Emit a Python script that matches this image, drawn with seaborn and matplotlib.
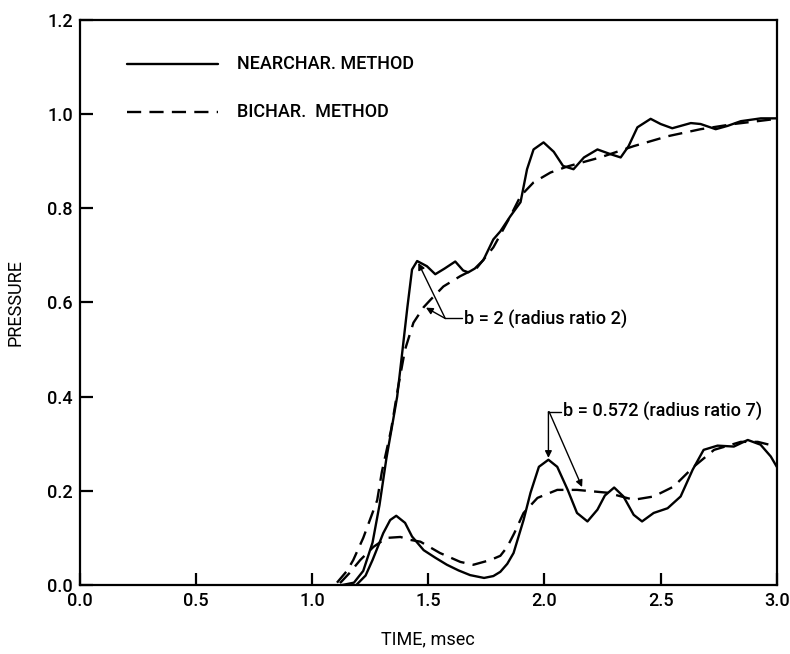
import matplotlib
matplotlib.use("Agg")
import matplotlib.pyplot as plt
import seaborn as sns
import pandas as pd

# ---- data ----
near_b2_t = [1.13, 1.18, 1.22, 1.26, 1.29, 1.32, 1.345, 1.366, 1.386, 1.41, 1.43, 1.452,
             1.494, 1.53, 1.57, 1.616, 1.65, 1.672, 1.70, 1.737, 1.78, 1.81, 1.853, 1.897,
             1.925, 1.953, 1.996, 2.04, 2.08, 2.125, 2.17, 2.228, 2.284, 2.328, 2.362,
             2.40, 2.457, 2.50, 2.55, 2.63, 2.672, 2.737, 2.788, 2.845, 2.931, 3.0]
near_b2_p = [0.0, 0.005, 0.03, 0.09, 0.17, 0.27, 0.34, 0.40, 0.486, 0.59, 0.67, 0.688,
             0.677, 0.66, 0.672, 0.687, 0.668, 0.664, 0.672, 0.69, 0.734, 0.751, 0.783, 0.813,
             0.883, 0.925, 0.94, 0.92, 0.89, 0.883, 0.908, 0.925, 0.915, 0.908, 0.932,
             0.972, 0.99, 0.979, 0.970, 0.981, 0.979, 0.968, 0.975, 0.985, 0.991, 0.991]

bich_b2_t = [1.107, 1.15, 1.177, 1.22, 1.25, 1.28, 1.30, 1.34, 1.37, 1.40, 1.436, 1.48,
             1.51, 1.565, 1.638, 1.71, 1.78, 1.85, 1.897, 1.953, 2.026, 2.10, 2.24,
             2.384, 2.53, 2.672, 2.815, 3.0]
bich_b2_p = [0.005, 0.03, 0.053, 0.10, 0.14, 0.18, 0.24, 0.33, 0.42, 0.50, 0.557, 0.59,
             0.606, 0.634, 0.656, 0.674, 0.717, 0.78, 0.826, 0.855, 0.876, 0.889, 0.908,
             0.932, 0.953, 0.968, 0.979, 0.99]

near_b7_t = [1.19, 1.23, 1.26, 1.29, 1.306, 1.336, 1.362, 1.40, 1.43, 1.48, 1.53, 1.58,
             1.63, 1.68, 1.74, 1.78, 1.81, 1.84, 1.867, 1.91, 1.94, 1.976, 2.017, 2.055,
             2.10, 2.14, 2.185, 2.228, 2.26, 2.30, 2.34, 2.384, 2.42, 2.47, 2.53, 2.586,
             2.638, 2.685, 2.745, 2.815, 2.875, 2.93, 2.974, 3.0]
near_b7_p = [0.0, 0.02, 0.053, 0.09, 0.11, 0.138, 0.147, 0.132, 0.103, 0.074, 0.058, 0.043,
             0.031, 0.021, 0.015, 0.019, 0.028, 0.045, 0.068, 0.138, 0.196, 0.251, 0.266, 0.251,
             0.202, 0.153, 0.135, 0.16, 0.19, 0.207, 0.188, 0.149, 0.135, 0.153, 0.163, 0.188,
             0.245, 0.287, 0.296, 0.294, 0.308, 0.298, 0.273, 0.251]

bich_b7_t = [1.12, 1.16, 1.207, 1.264, 1.32, 1.38, 1.42, 1.466, 1.55, 1.638, 1.694, 1.767,
             1.81, 1.84, 1.87, 1.91, 1.97, 2.055, 2.14, 2.27, 2.384, 2.47, 2.556, 2.642,
             2.73, 2.845, 2.918, 3.0]
bich_b7_p = [0.004, 0.025, 0.053, 0.081, 0.10, 0.102, 0.096, 0.092, 0.068, 0.049, 0.043, 0.053,
             0.062, 0.081, 0.11, 0.153, 0.185, 0.202, 0.202, 0.196, 0.181, 0.188, 0.209, 0.251,
             0.287, 0.304, 0.304, 0.294]

x_ticks = [0.0, 0.5, 1.0, 1.5, 2.0, 2.5, 3.0]
y_ticks = [0.0, 0.2, 0.4, 0.6, 0.8, 1.0, 1.2]
legend_labels = ["NEARCHAR. METHOD", "BICHAR.  METHOD"]
note_b2 = "b = 2 (radius ratio 2)"
note_b7 = "b = 0.572 (radius ratio 7)"

# ---- style ----
sns.set_theme(style="white")
plt.rcParams["font.family"] = ["Roboto", "DejaVu Sans"]
plt.rcParams["font.weight"] = "medium"
plt.rcParams["axes.linewidth"] = 1.6
plt.rcParams["text.color"] = "black"
plt.rcParams["axes.labelcolor"] = "black"

fig = plt.figure(figsize=(7.9, 6.54), dpi=100)
ax = fig.add_axes([0.101, 0.1055, 0.8823, 0.864])

LW = 1.7
DASH = (6, 3.5)
FS = 13

def curve(t, p, dashed):
    df = pd.DataFrame({"t": t, "p": p})
    sns.lineplot(data=df, x="t", y="p", ax=ax, color="black", linewidth=LW,
                 sort=False, estimator=None)
    if dashed:
        ax.lines[-1].set_dashes(DASH)

curve(near_b2_t, near_b2_p, False)
curve(bich_b2_t, bich_b2_p, True)
curve(near_b7_t, near_b7_p, False)
curve(bich_b7_t, bich_b7_p, True)

ax.set_xlim(0, 3.0)
ax.set_ylim(0, 1.2)
ax.set_xticks(x_ticks)
ax.set_yticks(y_ticks)
ax.set_xticklabels([f"{v:.1f}" for v in x_ticks], fontsize=FS)
ax.set_yticklabels([f"{v:.1f}" for v in y_ticks], fontsize=FS)
ax.tick_params(axis="both", direction="in", length=9, width=1.6, pad=5,
               bottom=True, left=True, top=False, right=False, colors="black")
for s in ax.spines.values():
    s.set_color("black")
ax.set_xlabel("TIME, msec", fontsize=FS, labelpad=15)
ax.set_ylabel("PRESSURE", fontsize=FS, labelpad=16)

# legend drawn as in the original (lines + text inside the axes)
ax.plot([0.203, 0.595], [1.106, 1.106], color="black", lw=LW)
ax.plot([0.203, 0.595], [1.004, 1.004], color="black", lw=LW, dashes=DASH)
ax.text(0.677, 1.106, legend_labels[0], fontsize=FS, va="center", ha="left")
ax.text(0.677, 1.004, legend_labels[1], fontsize=FS, va="center", ha="left")

# annotations
arrow = dict(arrowstyle="-|>", color="black", lw=1.0, mutation_scale=10, shrinkA=0, shrinkB=0)
ax.text(1.655, 0.564, note_b2, fontsize=FS, va="center", ha="left")
ax.plot([1.573, 1.645], [0.566, 0.566], color="black", lw=1.0)
ax.annotate("", xy=(1.457, 0.684), xytext=(1.573, 0.566), arrowprops=arrow)
ax.annotate("", xy=(1.49, 0.589), xytext=(1.573, 0.566), arrowprops=arrow)

ax.text(2.08, 0.368, note_b7, fontsize=FS, va="center", ha="left")
ax.plot([2.017, 2.07], [0.368, 0.368], color="black", lw=1.0)
ax.annotate("", xy=(2.017, 0.27), xytext=(2.017, 0.368), arrowprops=arrow)
ax.annotate("", xy=(2.162, 0.208), xytext=(2.02, 0.368), arrowprops=arrow)

fig.savefig("out.png", dpi=100)
